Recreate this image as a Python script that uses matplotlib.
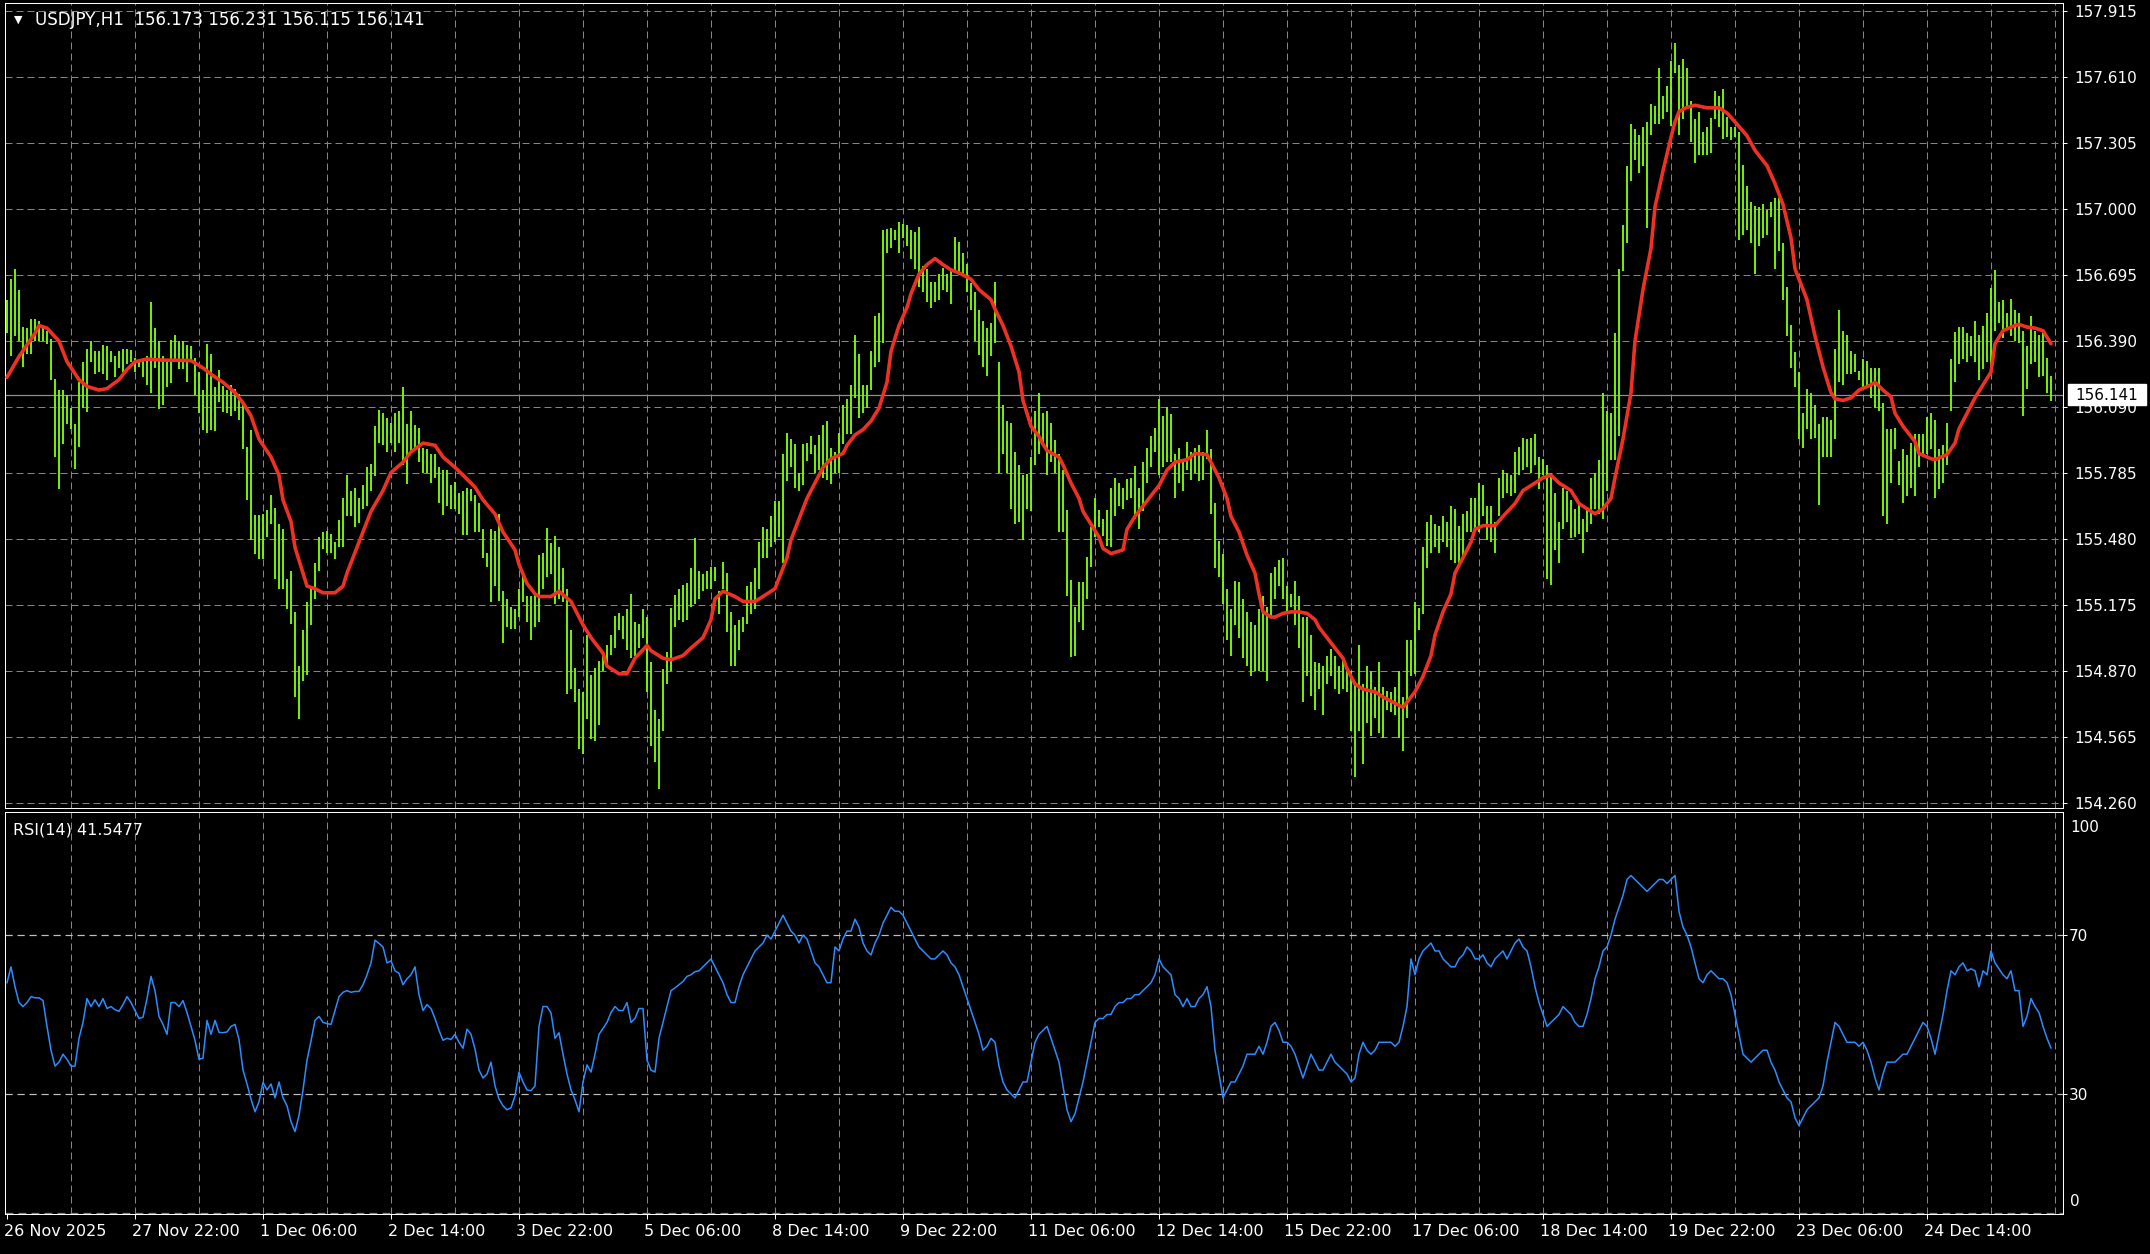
import numpy as np
import matplotlib
matplotlib.use("Agg")
import matplotlib.pyplot as plt
from matplotlib.transforms import ScaledTranslation
from matplotlib.patches import Rectangle

# ---------------- data ----------------
symbol_title = "USDJPY,H1  156.173 156.231 156.115 156.141"
rsi_title = "RSI(14) 41.5477"
last_price = 156.141
last_price_label = "156.141"

price_tick_values = [154.260, 154.565, 154.869, 155.174, 155.478, 155.783, 156.087,
                     156.392, 156.697, 157.001, 157.306, 157.610, 157.915]
price_tick_labels = ["154.260", "154.565", "154.870", "155.175", "155.480", "155.785", "156.090",
                     "156.390", "156.695", "157.000", "157.305", "157.610", "157.915"]

time_labels = ["26 Nov 2025", "27 Nov 22:00", "1 Dec 06:00", "2 Dec 14:00", "3 Dec 22:00",
               "5 Dec 06:00", "8 Dec 14:00", "9 Dec 22:00", "11 Dec 06:00", "12 Dec 14:00",
               "15 Dec 22:00", "17 Dec 06:00", "18 Dec 14:00", "19 Dec 22:00", "23 Dec 06:00",
               "24 Dec 14:00"]
bars_per_label = 32
bars_per_grid = 16

rsi_levels = [30, 70]

high = [
    156.582, 156.677, 156.724, 156.629, 156.458, 156.451, 156.494, 156.494, 156.486, 156.463,
    156.439, 156.403, 156.217, 156.165, 156.165, 156.141, 156.082, 156.010, 156.201, 156.296,
    156.356, 156.391, 156.344, 156.344, 156.372, 156.367, 156.344, 156.320, 156.344, 156.356,
    156.356, 156.348, 156.315, 156.296, 156.308, 156.320, 156.570, 156.451, 156.391, 156.320,
    156.296, 156.396, 156.420, 156.391, 156.391, 156.374, 156.367, 156.313, 156.248, 156.165,
    156.379, 156.332, 156.177, 156.258, 156.184, 156.165, 156.189, 156.172, 156.148, 156.106,
    155.901, 155.982, 155.587, 155.587, 155.594, 155.610, 155.681, 155.622, 155.546, 155.522,
    155.295, 155.331, 155.141, 154.891, 155.058, 155.188, 155.248, 155.367, 155.487, 155.510,
    155.515, 155.499, 155.463, 155.563, 155.666, 155.773, 155.701, 155.713, 155.666, 155.725,
    155.808, 155.825, 155.999, 156.075, 156.058, 156.034, 156.015, 156.058, 156.070, 156.177,
    156.010, 156.070, 156.005, 155.991, 155.896, 155.891, 155.868, 155.868, 155.808, 155.796,
    155.796, 155.725, 155.742, 155.689, 155.697, 155.713, 155.706, 155.682, 155.642, 155.522,
    155.415, 155.522, 155.515, 155.591, 155.236, 155.200, 155.165, 155.153, 155.248, 155.320,
    155.212, 155.212, 155.224, 155.403, 155.415, 155.529, 155.458, 155.491, 155.439, 155.343,
    155.248, 155.058, 154.884, 154.784, 154.772, 155.034, 154.848, 154.884, 154.915, 154.958,
    154.986, 155.034, 155.124, 155.134, 155.124, 155.153, 155.224, 155.093, 155.086, 155.153,
    155.117, 154.908, 154.688, 154.648, 154.879, 154.958, 155.158, 155.217, 155.248, 155.265,
    155.272, 155.343, 155.482, 155.331, 155.315, 155.331, 155.348, 155.348, 155.236, 155.372,
    155.320, 155.141, 155.081, 155.105, 155.117, 155.260, 155.279, 155.343, 155.463, 155.534,
    155.522, 155.582, 155.653, 155.653, 155.868, 155.968, 155.939, 155.915, 155.784, 155.915,
    155.920, 155.951, 155.910, 155.958, 156.005, 156.022, 155.896, 155.880, 155.968, 156.098,
    156.122, 156.189, 156.420, 156.332, 156.189, 156.189, 156.344, 156.506, 156.523, 156.904,
    156.908, 156.915, 156.904, 156.939, 156.934, 156.927, 156.904, 156.896, 156.920, 156.737,
    156.724, 156.665, 156.665, 156.701, 156.729, 156.701, 156.713, 156.872, 156.849, 156.796,
    156.748, 156.658, 156.617, 156.534, 156.486, 156.451, 156.475, 156.665, 156.296, 156.094,
    156.022, 156.015, 155.880, 155.820, 155.773, 155.777, 155.856, 156.070, 156.153, 156.058,
    156.070, 156.015, 155.934, 155.868, 155.796, 155.610, 155.289, 155.165, 155.277, 155.277,
    155.396, 155.534, 155.666, 155.610, 155.570, 155.610, 155.713, 155.761, 155.737, 155.713,
    155.754, 155.761, 155.813, 155.713, 155.832, 155.896, 155.951, 155.992, 156.122, 156.046,
    156.087, 156.053, 155.872, 155.896, 155.844, 155.927, 155.880, 155.896, 155.910, 155.880,
    155.982, 155.891, 155.642, 155.468, 155.410, 155.248, 155.153, 155.284, 155.277, 155.200,
    155.141, 155.093, 155.081, 155.153, 155.212, 155.165, 155.320, 155.348, 155.379, 155.391,
    155.260, 155.224, 155.284, 155.212, 155.117, 155.117, 155.034, 154.908, 154.903, 154.891,
    154.939, 154.968, 154.939, 154.891, 154.927, 154.867, 154.867, 154.808, 154.986, 154.808,
    154.891, 154.867, 154.796, 154.910, 154.796, 154.777, 154.772, 154.796, 154.867, 154.748,
    155.010, 155.010, 155.188, 155.158, 155.439, 155.558, 155.587, 155.546, 155.539, 155.582,
    155.558, 155.630, 155.618, 155.539, 155.594, 155.606, 155.666, 155.666, 155.737, 155.725,
    155.630, 155.630, 155.558, 155.761, 155.796, 155.784, 155.773, 155.880, 155.903, 155.944,
    155.939, 155.944, 155.963, 155.856, 155.849, 155.820, 155.784, 155.689, 155.558, 155.713,
    155.701, 155.658, 155.618, 155.642, 155.570, 155.618, 155.761, 155.784, 155.844, 156.153,
    156.070, 156.058, 156.427, 156.725, 156.927, 157.201, 157.392, 157.368, 157.344, 157.380,
    157.404, 157.487, 157.475, 157.654, 157.523, 157.570, 157.682, 157.768, 157.666, 157.694,
    157.654, 157.499, 157.416, 157.451, 157.356, 157.380, 157.420, 157.546, 157.523, 157.554,
    157.427, 157.380, 157.380, 157.356, 157.206, 157.106, 157.034, 157.015, 157.010, 157.022,
    156.998, 157.034, 157.053, 157.053, 156.844, 156.641, 156.467, 156.339, 156.248, 156.058,
    156.172, 156.153, 156.098, 156.010, 156.039, 156.039, 156.029, 156.356, 156.534, 156.439,
    156.420, 156.344, 156.332, 156.253, 156.308, 156.301, 156.267, 156.267, 156.267, 156.106,
    155.987, 155.987, 155.992, 155.837, 155.891, 155.863, 155.920, 155.963, 155.963, 155.963,
    156.039, 156.058, 156.029, 155.891, 155.910, 156.015, 156.308, 156.434, 156.458, 156.458,
    156.427, 156.415, 156.482, 156.420, 156.463, 156.523, 156.635, 156.720, 156.570, 156.582,
    156.523, 156.587, 156.534, 156.523, 156.439, 156.367, 156.506, 156.439, 156.420, 156.439,
    156.315, 156.231,
]

low = [
    156.427, 156.320, 156.415, 156.391, 156.272, 156.332, 156.332, 156.391, 156.391, 156.391,
    156.379, 156.213, 155.856, 155.708, 155.915, 156.010, 155.987, 155.801, 155.903, 156.082,
    156.065, 156.296, 156.237, 156.248, 156.237, 156.213, 156.296, 156.225, 156.267, 156.248,
    156.284, 156.296, 156.248, 156.272, 156.225, 156.189, 156.153, 156.267, 156.077, 156.098,
    156.177, 156.196, 156.296, 156.260, 156.260, 156.201, 156.296, 156.141, 156.058, 155.979,
    155.968, 155.979, 155.975, 156.110, 156.063, 156.058, 156.046, 156.070, 156.029, 155.891,
    155.658, 155.475, 155.408, 155.387, 155.387, 155.487, 155.546, 155.295, 155.248, 155.248,
    155.153, 155.086, 154.748, 154.646, 154.824, 154.848, 155.081, 155.200, 155.331, 155.432,
    155.415, 155.415, 155.384, 155.439, 155.439, 155.582, 155.582, 155.534, 155.553, 155.618,
    155.630, 155.701, 155.768, 155.920, 155.911, 155.880, 155.920, 155.880, 155.920, 155.820,
    155.732, 155.880, 155.896, 155.832, 155.784, 155.784, 155.737, 155.761, 155.642, 155.587,
    155.630, 155.618, 155.618, 155.594, 155.494, 155.494, 155.654, 155.510, 155.510, 155.391,
    155.348, 155.188, 155.260, 155.193, 154.999, 155.069, 155.062, 155.062, 155.117, 155.188,
    155.093, 155.010, 155.069, 155.093, 155.248, 155.300, 155.314, 155.177, 155.200, 155.188,
    154.760, 154.784, 154.724, 154.510, 154.486, 154.646, 154.553, 154.546, 154.617, 154.867,
    154.896, 154.944, 154.975, 155.058, 155.015, 154.963, 154.927, 154.939, 154.975, 155.022,
    154.772, 154.522, 154.446, 154.324, 154.593, 154.808, 154.867, 155.069, 155.105, 155.093,
    155.105, 155.165, 155.177, 155.200, 155.236, 155.248, 155.248, 155.284, 155.129, 155.248,
    155.046, 154.891, 154.891, 154.963, 155.046, 155.086, 155.129, 155.153, 155.248, 155.391,
    155.391, 155.439, 155.463, 155.487, 155.367, 155.745, 155.808, 155.713, 155.697, 155.725,
    155.839, 155.868, 155.784, 155.796, 155.761, 155.749, 155.730, 155.784, 155.784, 155.915,
    155.963, 155.963, 156.130, 156.034, 156.058, 156.082, 156.165, 156.272, 156.296, 156.380,
    156.796, 156.820, 156.856, 156.796, 156.868, 156.832, 156.772, 156.724, 156.641, 156.617,
    156.570, 156.546, 156.570, 156.582, 156.629, 156.617, 156.563, 156.713, 156.696, 156.701,
    156.617, 156.534, 156.391, 156.325, 156.272, 156.229, 156.320, 156.380, 155.784, 155.868,
    155.784, 155.618, 155.546, 155.558, 155.475, 155.618, 155.606, 155.820, 155.868, 155.915,
    155.773, 155.832, 155.784, 155.510, 155.510, 155.212, 154.934, 154.939, 155.093, 155.058,
    155.200, 155.348, 155.487, 155.534, 155.491, 155.444, 155.439, 155.582, 155.630, 155.618,
    155.658, 155.666, 155.570, 155.522, 155.606, 155.737, 155.808, 155.880, 155.773, 155.808,
    155.832, 155.832, 155.666, 155.737, 155.701, 155.796, 155.749, 155.784, 155.745, 155.749,
    155.849, 155.594, 155.343, 155.300, 155.177, 155.010, 154.939, 155.081, 155.022, 154.927,
    154.891, 154.843, 154.867, 154.867, 154.867, 154.824, 155.117, 155.200, 155.260, 155.200,
    155.141, 155.165, 155.081, 154.975, 154.724, 154.843, 154.753, 154.688, 154.784, 154.665,
    154.808, 154.843, 154.784, 154.760, 154.784, 154.772, 154.593, 154.379, 154.593, 154.439,
    154.629, 154.570, 154.653, 154.582, 154.558, 154.688, 154.677, 154.665, 154.558, 154.498,
    154.653, 154.843, 154.855, 155.058, 155.129, 155.343, 155.415, 155.439, 155.415, 155.463,
    155.439, 155.379, 155.367, 155.355, 155.379, 155.510, 155.510, 155.522, 155.510, 155.582,
    155.475, 155.463, 155.415, 155.582, 155.666, 155.689, 155.677, 155.689, 155.773, 155.796,
    155.808, 155.784, 155.820, 155.706, 155.773, 155.295, 155.267, 155.427, 155.367, 155.522,
    155.558, 155.482, 155.487, 155.499, 155.415, 155.510, 155.546, 155.618, 155.594, 155.570,
    155.701, 155.844, 155.844, 155.951, 156.713, 156.844, 157.130, 157.225, 157.166, 157.201,
    156.915, 157.344, 157.392, 157.392, 157.416, 157.451, 157.385, 157.630, 157.344, 157.416,
    157.463, 157.308, 157.213, 157.249, 157.249, 157.249, 157.261, 157.416, 157.380, 157.325,
    157.332, 157.320, 157.332, 156.856, 156.880, 156.904, 156.844, 156.701, 156.832, 156.868,
    156.880, 156.963, 156.725, 156.808, 156.582, 156.415, 156.267, 156.177, 155.939, 155.896,
    155.987, 155.939, 155.944, 155.634, 155.856, 155.856, 155.856, 155.939, 156.201, 156.189,
    156.237, 156.237, 156.248, 156.213, 156.165, 156.177, 156.130, 156.082, 156.070, 155.582,
    155.546, 155.737, 155.891, 155.725, 155.642, 155.677, 155.713, 155.677, 155.808, 155.868,
    155.868, 155.891, 155.666, 155.706, 155.737, 155.820, 156.070, 156.201, 156.284, 156.308,
    156.296, 156.320, 156.296, 156.213, 156.260, 156.296, 156.237, 156.439, 156.475, 156.404,
    156.451, 156.415, 156.391, 156.380, 156.046, 156.172, 156.284, 156.296, 156.225, 156.229,
    156.153, 156.115,
]

ma_bar = [
    0, 3, 7, 8, 10, 13, 15, 18, 20, 23, 25, 28, 30, 32, 35, 39, 42, 46, 49, 52,
    54, 57, 59, 61, 63, 66, 68, 69, 71, 72, 74, 75, 77, 79, 82, 84, 85, 87, 89, 91,
    94, 96, 99, 101, 104, 107, 109, 112, 114, 117, 119, 122, 124, 127, 128, 130, 132, 133, 136, 138,
    141, 144, 146, 149, 150, 153, 155, 157, 160, 161, 164, 166, 169, 171, 174, 176, 177, 179, 182, 184,
    187, 189, 192, 193, 195, 196, 198, 200, 202, 204, 206, 209, 210, 212, 214, 216, 218, 220, 221, 223,
    225, 226, 228, 230, 232, 234, 236, 238, 241, 243, 246, 247, 249, 251, 253, 254, 256, 258, 259, 260,
    263, 264, 266, 268, 269, 271, 273, 274, 276, 279, 280, 282, 284, 286, 288, 290, 292, 295, 297, 300,
    301, 303, 305, 306, 308, 310, 312, 313, 314, 316, 317, 319, 321, 323, 325, 327, 328, 330, 332, 334,
    335, 337, 339, 342, 344, 346, 349, 350, 352, 354, 356, 357, 359, 361, 362, 364, 366, 367, 369, 372,
    374, 377, 379, 382, 384, 386, 388, 390, 391, 393, 396, 397, 399, 401, 402, 404, 406, 407, 409, 411,
    412, 414, 416, 417, 418, 420, 422, 425, 428, 430, 432, 435, 437, 440, 442, 444, 446, 447, 450, 452,
    454, 456, 457, 459, 461, 463, 466, 467, 469, 471, 472, 474, 477, 478, 481, 482, 485, 487, 488, 490,
    492, 494, 496, 497, 499, 502, 503, 505, 507, 509, 511,
]
ma_val = [
    156.224, 156.320, 156.427, 156.463, 156.451, 156.391, 156.296, 156.213, 156.182, 156.165,
    156.172, 156.213, 156.260, 156.296, 156.308, 156.303, 156.303, 156.301, 156.267, 156.225,
    156.201, 156.153, 156.106, 156.046, 155.939, 155.856, 155.772, 155.658, 155.558, 155.439,
    155.320, 155.260, 155.248, 155.229, 155.229, 155.260, 155.320, 155.415, 155.510, 155.605,
    155.701, 155.784, 155.832, 155.879, 155.920, 155.910, 155.856, 155.808, 155.772, 155.717,
    155.658, 155.593, 155.510, 155.427, 155.360, 155.272, 155.224, 155.212, 155.212, 155.236,
    155.189, 155.081, 155.022, 154.950, 154.891, 154.855, 154.855, 154.927, 154.986, 154.962,
    154.927, 154.920, 154.939, 154.974, 155.022, 155.105, 155.201, 155.236, 155.212, 155.189,
    155.189, 155.212, 155.248, 155.296, 155.391, 155.474, 155.570, 155.665, 155.736, 155.808,
    155.848, 155.872, 155.910, 155.958, 155.982, 156.022, 156.082, 156.201, 156.344, 156.463,
    156.546, 156.610, 156.701, 156.744, 156.772, 156.744, 156.720, 156.706, 156.677, 156.629,
    156.582, 156.539, 156.463, 156.368, 156.249, 156.117, 155.998, 155.951, 155.915, 155.886,
    155.855, 155.820, 155.736, 155.665, 155.605, 155.546, 155.486, 155.434, 155.410, 155.427,
    155.522, 155.582, 155.629, 155.677, 155.724, 155.796, 155.832, 155.844, 155.872, 155.867,
    155.832, 155.760, 155.665, 155.582, 155.510, 155.403, 155.320, 155.224, 155.141, 155.117,
    155.117, 155.134, 155.141, 155.141, 155.134, 155.105, 155.070, 155.022, 154.974, 154.927,
    154.879, 154.808, 154.784, 154.772, 154.748, 154.729, 154.700, 154.724, 154.772, 154.843,
    154.939, 155.034, 155.141, 155.224, 155.320, 155.391, 155.463, 155.522, 155.539, 155.539,
    155.582, 155.641, 155.701, 155.736, 155.760, 155.772, 155.736, 155.713, 155.701, 155.641,
    155.605, 155.594, 155.617, 155.665, 155.760, 155.939, 156.153, 156.391, 156.629, 156.820,
    157.010, 157.177, 157.332, 157.403, 157.451, 157.470, 157.480, 157.468, 157.468, 157.444,
    157.403, 157.339, 157.272, 157.201, 157.118, 157.022, 156.868, 156.725, 156.582, 156.415,
    156.272, 156.153, 156.125, 156.117, 156.129, 156.165, 156.189, 156.201, 156.165, 156.134,
    156.058, 155.998, 155.927, 155.872, 155.848, 155.844, 155.867, 155.920, 155.986, 156.058,
    156.129, 156.189, 156.248, 156.379, 156.439, 156.463, 156.468, 156.456, 156.451, 156.439,
    156.379,
]

rsi = [
    58, 62, 57, 53, 52, 53, 54.5, 54.2, 54.2, 53.5,
    47, 41, 37, 38, 40, 38.7, 37, 37, 44, 48,
    54, 52, 53.7, 52, 54, 51.5, 52, 51.2, 50.8, 52.5,
    54.5, 53, 51, 49, 49.3, 54, 59.6, 56, 49.5, 47.5,
    45, 53, 53, 52, 53.5, 50.5, 47, 43.5, 38.7, 39,
    48.5, 45, 48.5, 45.5, 45.4, 45.6, 47, 47.5, 43.7, 36,
    32.5, 28.7, 25.5, 28, 32.9, 31, 32.5, 29, 33, 29,
    27, 23, 20.5, 24.6, 31, 38.5, 43.3, 48.5, 49.5, 48,
    47.7, 47.5, 51, 54.5, 55.6, 56, 55.6, 55.8, 55.8, 57.5,
    60, 63, 68.7, 67.9, 67, 63, 63.5, 61, 60.4, 57.5,
    59, 60, 62, 55, 51, 52.5, 51.5, 49, 46, 43.5,
    44, 43.7, 45, 43, 41.5, 46.3, 45, 41.3, 36, 34,
    35, 38, 32, 28.7, 27, 26, 26.5, 29.5, 35.5, 33,
    31, 30.8, 32, 47, 52, 52, 50.4, 44, 45.4, 40,
    35, 31, 28.5, 25.5, 33, 37.3, 35.5, 40, 45, 46.5,
    48, 50.5, 52, 51, 51, 53, 48, 49, 51.5, 51.5,
    38.5, 36, 35.5, 44, 48, 52, 56, 56.7, 57.5, 58.3,
    59.6, 60, 60.8, 61, 62, 63, 64, 62, 60, 58,
    55, 53, 53, 57, 60, 62, 64, 66, 67, 68,
    70, 69, 71, 73, 75, 73, 71, 70, 68, 70,
    69, 66, 63, 62, 60, 58, 58, 67, 66, 69,
    71, 71, 74, 72, 68, 66, 65, 68, 70, 73,
    75, 77, 76, 76, 75, 73, 71, 69, 67, 66,
    65, 64, 64, 65, 66, 65, 63, 62, 60, 57,
    54, 51, 48, 45, 41, 42, 44, 43, 37, 33,
    31, 30, 29, 31, 33, 33, 38, 43, 45, 46,
    47, 44, 41, 38, 32, 26, 23, 25, 29, 33,
    38, 43, 48, 49, 49, 50, 50, 52, 53, 53,
    54, 54, 55, 55, 56, 57, 58, 60, 64, 62,
    61, 60, 55, 54, 52, 54, 52, 52, 54, 55,
    57, 52, 41, 35, 29, 31, 33, 33, 35, 37,
    40, 40, 40, 42, 40, 43, 47, 48, 46, 43,
    43, 42, 40, 37, 34, 37, 40, 38, 36, 36,
    38, 40, 38, 37, 36, 35, 33, 34, 40, 43,
    41, 40, 41, 43, 43, 43, 43, 42, 43, 47,
    52, 64, 60, 64, 66, 67, 68, 66, 66, 64,
    63, 62, 62, 64, 65, 67, 66, 64, 64, 65,
    63, 62, 64, 65, 66, 64, 66, 68, 69, 67,
    66, 62, 57, 53, 50, 47, 48, 49, 50, 52,
    51, 50, 48, 47, 47, 50, 54, 59, 62, 66,
    67, 70, 74, 77, 80, 84, 85, 84, 83, 82,
    81, 82, 83, 84, 84, 83, 84, 85, 76, 72,
    70, 67, 63, 59, 58, 60, 61, 60, 59, 59,
    58, 55, 50, 45, 40, 39, 38, 39, 40, 41,
    41, 38, 36, 33, 31, 29, 28, 24, 22, 24,
    26, 27, 28, 29, 32, 38, 43, 48, 47, 45,
    43, 43, 43, 42, 43, 41, 38, 34, 31, 35,
    38, 38, 38, 39, 40, 40, 42, 44, 46, 48,
    47, 44, 40, 45, 50, 56, 61, 60, 62, 63,
    61, 61.5, 61, 57, 61, 60, 66, 63, 61.5, 60,
    59, 61, 56, 56, 47, 49.5, 54, 52, 50.5, 47,
    44, 41.55,
]

# ---------------- styling ----------------
W, H = 2150, 1254
BG = "black"
FG = "white"
GRID = "#778899"
LEVEL = "#C0C0C0"
BAR_C = "#7CFC00"
MA_C = "#EE3124"
RSI_C = "#2D8CFF"
PX = 0.72  # one pixel in points at 100 dpi


def fx(px):
    return px / W


def fy(py):
    return 1 - py / H


fig = plt.figure(figsize=(W / 100, H / 100), dpi=100, facecolor=BG)
ax = fig.add_axes([fx(5), fy(808), fx(2063) - fx(5), fy(3) - fy(808)])
axr = fig.add_axes([fx(5), fy(1214), fx(2063) - fx(5), fy(812) - fy(1214)])

n = len(high)
idx = np.arange(n)
x_right = n + 2

for a in (ax, axr):
    a.set_facecolor(BG)
    for s in a.spines.values():
        s.set_color(FG)
        s.set_linewidth(PX)
    a.set_xlim(-0.5, x_right)
    for gx in np.arange(bars_per_grid, n + 1, bars_per_grid):
        a.axvline(gx, color=GRID, lw=PX, ls=(0, (7, 4)), zorder=0.5)

# ---- main price panel ----
ax.set_ylim(154.2355, 157.952)
for v in price_tick_values:
    ax.axhline(v, color=GRID, lw=PX, ls=(0, (7, 4)), zorder=0.5)
ax.axhline(last_price, color="#8494A6", lw=PX * 1.2, zorder=1)
ax.vlines(idx, np.array(low), np.array(high), colors=BAR_C, linewidth=1.35, zorder=2)
ax.plot(ma_bar, ma_val, color=MA_C, lw=2.6, zorder=3, solid_capstyle="round")

ax.set_xticks([])
ax.yaxis.tick_right()
ax.set_yticks(price_tick_values)
ax.set_yticklabels(price_tick_labels)
ax.tick_params(axis="y", colors=FG, length=3, width=PX, pad=5.5, labelsize=11)

# current price marker box
fig.patches.append(Rectangle((fx(2068), fy(405)), fx(2146) - fx(2068), fy(384) - fy(405),
                             transform=fig.transFigure, facecolor="white", edgecolor="white",
                             zorder=10))
fig.text(fx(2107), fy(395), last_price_label, color="black", fontsize=11,
         ha="center", va="center", zorder=11)

# header
fig.text(fx(18), fy(20), "\u25BC", color=FG, fontsize=8, ha="center", va="center")
fig.text(fx(35), fy(20), symbol_title, color=FG, fontsize=12, ha="left", va="center")

# ---- RSI panel ----
axr.set_ylim(-0.25, 101)
for lv in rsi_levels:
    axr.axhline(lv, color=LEVEL, lw=PX * 1.2, ls=(0, (6, 4)), zorder=0.6)
axr.axhline(0, color=GRID, lw=PX * 1.3, ls=(0, (6, 4)), zorder=0.6)
axr.plot(idx, rsi, color=RSI_C, lw=1.1, zorder=3)

axr.yaxis.tick_right()
axr.set_yticks(rsi_levels)
axr.set_yticklabels([str(v) for v in rsi_levels])
axr.tick_params(axis="y", colors=FG, length=3, width=PX, pad=1.5, labelsize=11)
fig.text(fx(2070), fy(827), "100", color=FG, fontsize=11, ha="left", va="center")
fig.text(fx(2070), fy(1202), "0", color=FG, fontsize=11, ha="left", va="center")

tick_pos = np.arange(len(time_labels)) * bars_per_label
axr.set_xticks(tick_pos)
axr.set_xticklabels(time_labels)
axr.tick_params(axis="x", colors=FG, length=3.6, width=PX, pad=3.6, labelsize=11.5)
shift = ScaledTranslation(-3 / 100, 0, fig.dpi_scale_trans)
for lbl in axr.get_xticklabels():
    lbl.set_ha("left")
    lbl.set_transform(lbl.get_transform() + shift)

axr.text(0.0, 1.0, rsi_title, transform=axr.transAxes + ScaledTranslation(8 / 100, -18 / 100, fig.dpi_scale_trans),
         color=FG, fontsize=11.5, ha="left", va="center")

fig.savefig("out.png", dpi=100, facecolor=BG)
